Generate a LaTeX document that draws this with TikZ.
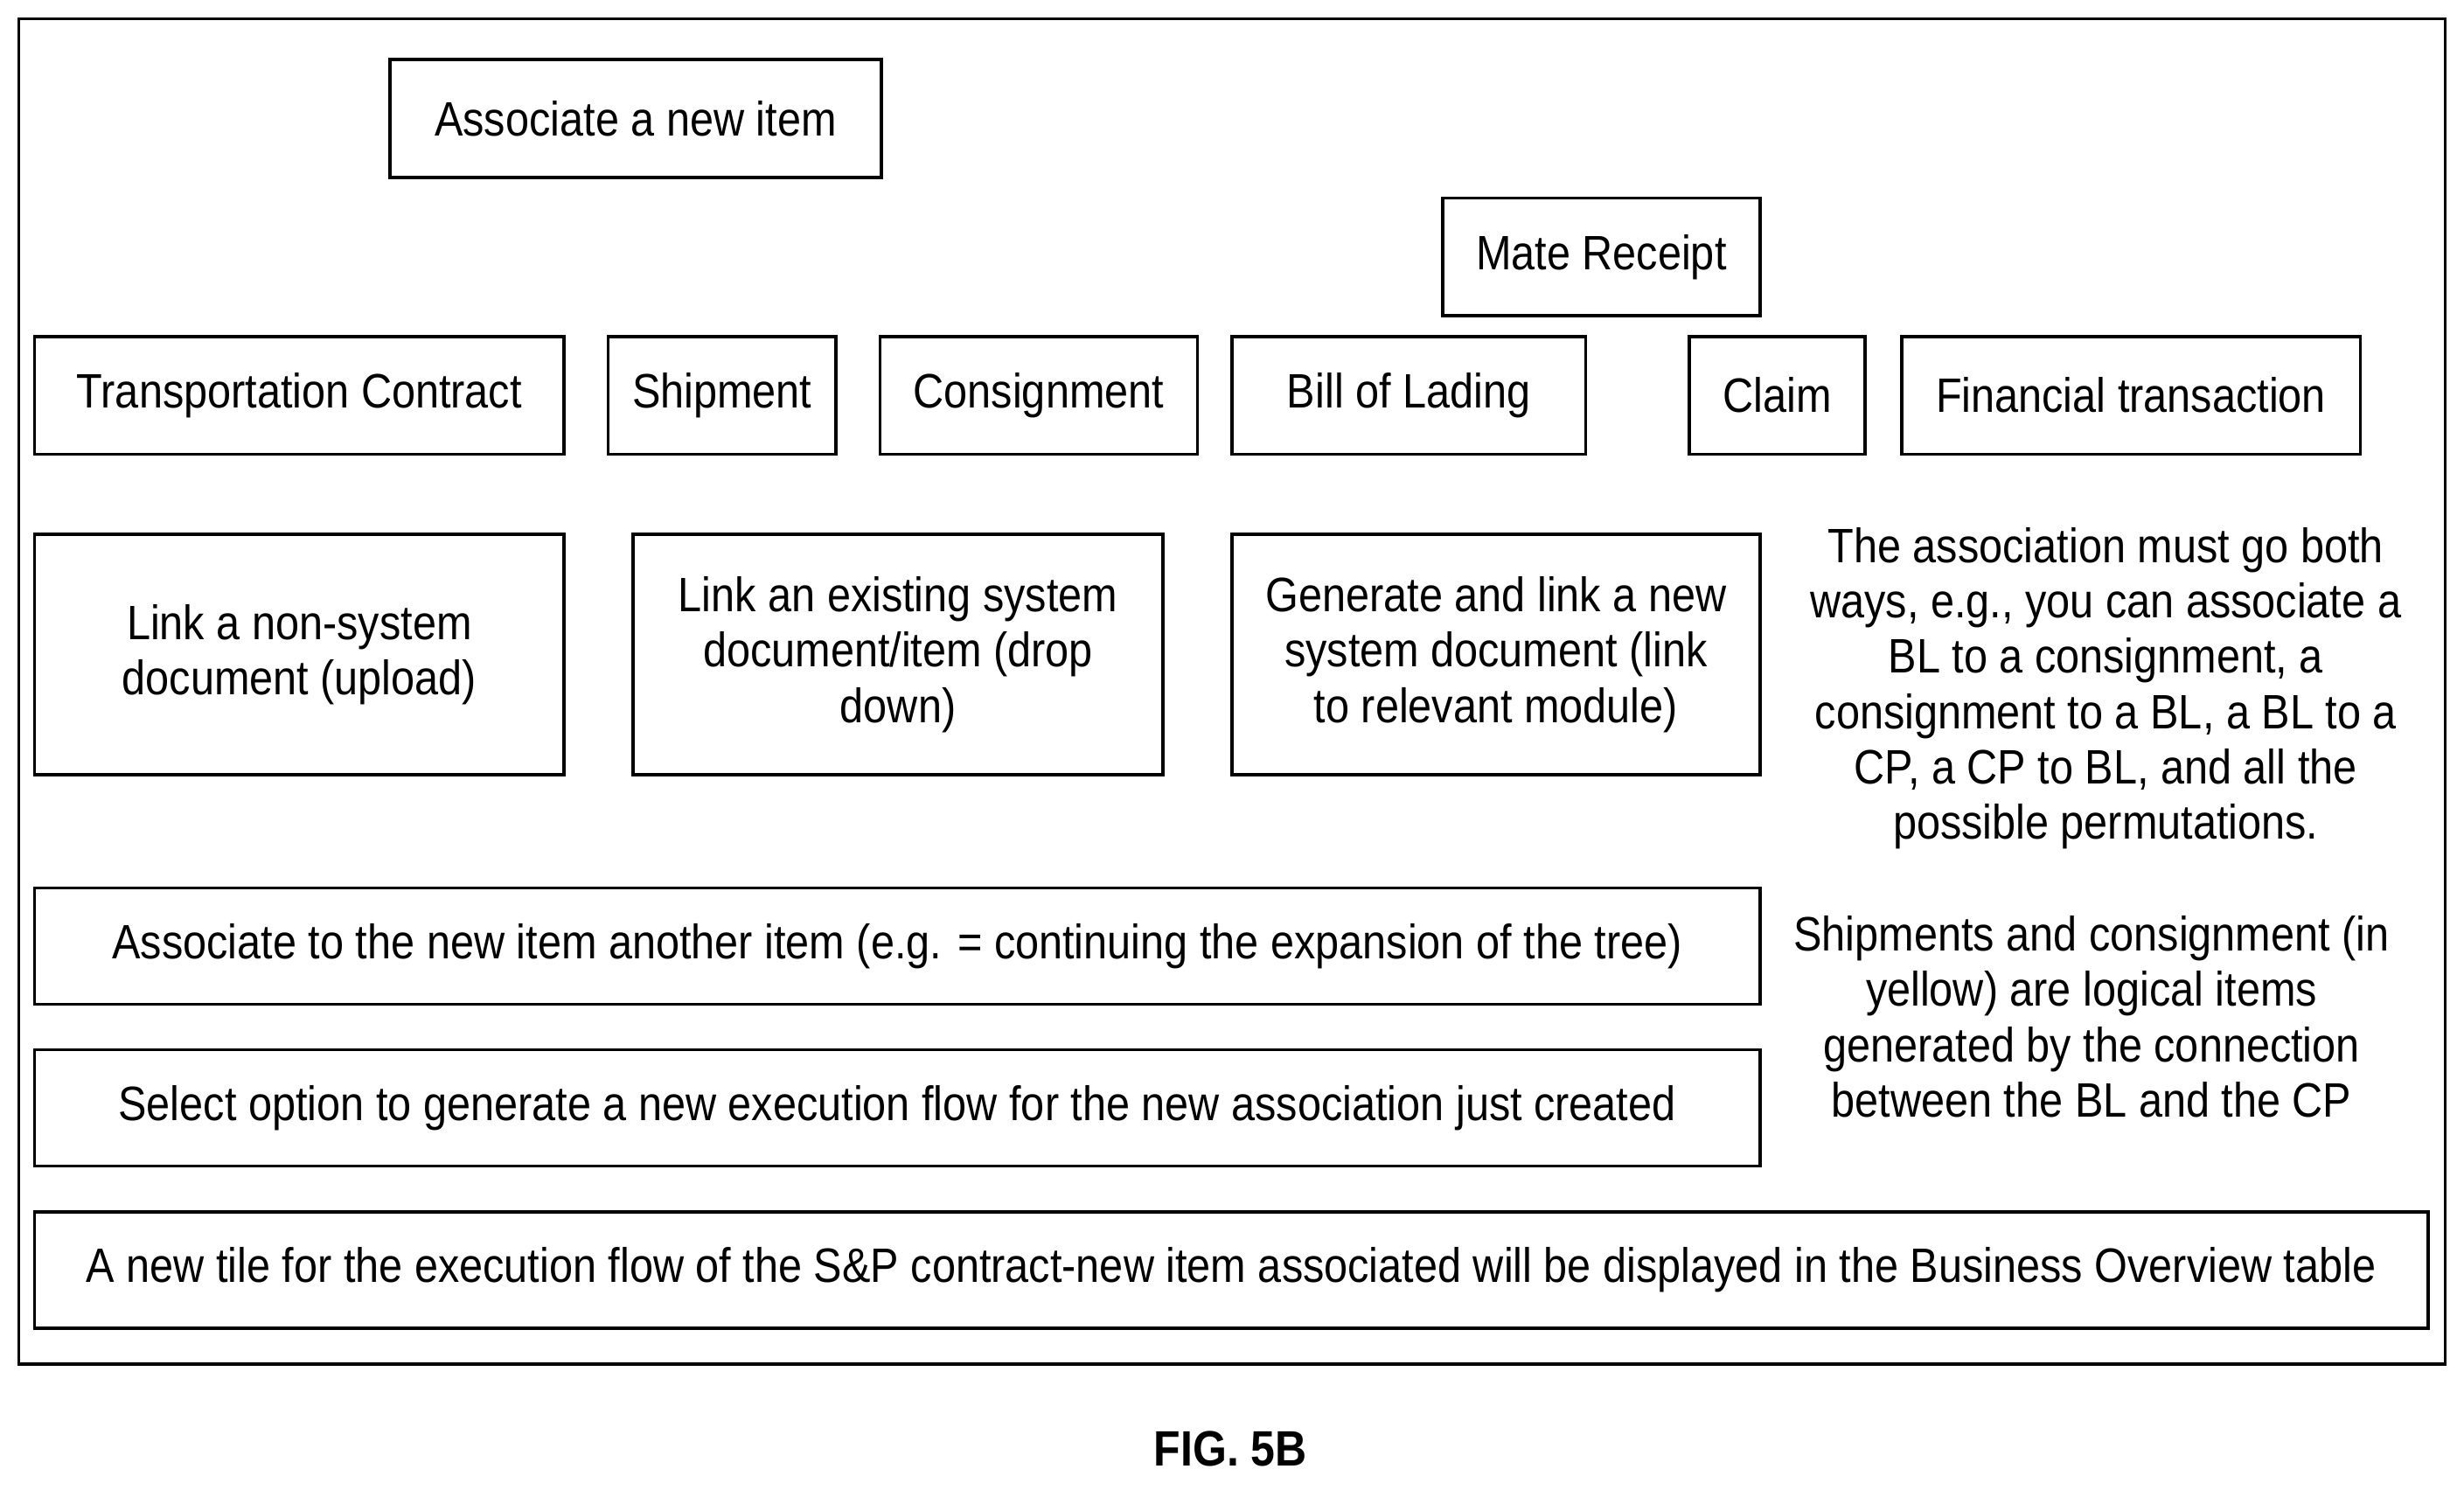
\documentclass[tikz,border=0pt]{standalone}
\usepackage{fontspec}
\setmainfont{Liberation Sans}[FakeStretch=0.88]
\begin{document}
\begin{tikzpicture}[x=0.02cm,y=-0.02cm,
  bx/.style={draw,line width=1.2pt,align=center,inner sep=0pt},
  txt/.style={font=\fontsize{17.5}{20}\selectfont}]
\useasboundingbox (0,0) rectangle (1568,948);
\draw[line width=1.2pt] (12,12) rectangle (1556,868);
\newcommand\bxn[6]{\draw[line width=1.2pt] (#2,#3) rectangle (#4,#5);
  \node[txt,align=center] (#1) at ({(#2+#4)/2},{(#3+#5)/2}) {#6};}
\bxn{assoc}{248}{38}{561}{113}{Associate a new item}
\bxn{mate}{918}{126}{1120}{201}{Mate Receipt}
\bxn{tc}{22}{214}{359}{289}{Transportation Contract}
\bxn{ship}{387}{214}{532}{289}{Shipment}
\bxn{cons}{560}{214}{762}{289}{Consignment}
\bxn{bl}{784}{214}{1009}{289}{Bill of Lading}
\bxn{claim}{1075}{214}{1187}{289}{Claim}
\bxn{fin}{1210}{214}{1502}{289}{Financial transaction}
\bxn{l1}{22}{340}{359}{493}{Link a non-system\\document (upload)}
\bxn{l2}{403}{340}{740}{493}{Link an existing system\\document/item (drop\\down)}
\bxn{l3}{784}{340}{1120}{493}{Generate and link a new\\system document (link\\to relevant module)}
\bxn{a2}{22}{565}{1120}{639}{Associate to the new item another item (e.g. = continuing the expansion of the tree)}
\bxn{sel}{22}{668}{1120}{742}{Select option to generate a new execution flow for the new association just created}
\bxn{tile}{22}{771}{1545}{845}{A new tile for the execution flow of the S\&P contract-new item associated will be displayed in the Business Overview table}
\node[txt,align=center] (n1) at (1340,438) {The association must go both\\ways, e.g., you can associate a\\BL to a consignment, a\\consignment to a BL, a BL to a\\CP, a CP to BL, and all the\\possible permutations.};
\node[txt,align=center] (n2) at (1331,647) {Shipments and consignment (in\\yellow) are logical items\\generated by the connection\\between the BL and the CP};
\node[font=\fontsize{18}{20}\selectfont\bfseries] (fig) at (783,922) {FIG. 5B};
\end{tikzpicture}
\end{document}
